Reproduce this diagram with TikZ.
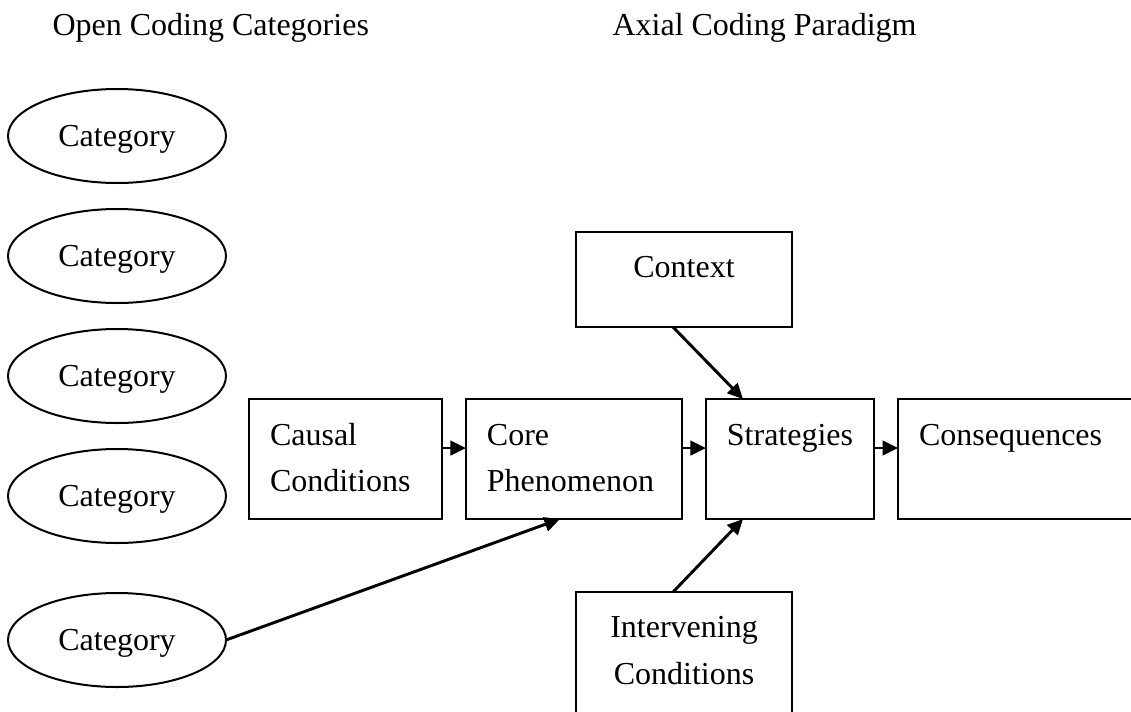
\documentclass[tikz,border=0pt]{standalone}
\usepackage{fontspec}
\setmainfont{Liberation Serif}
\usepackage{tikz}
\usetikzlibrary{shapes, shapes.geometric, arrows, arrows.meta, positioning, calc}

\begin{document}
\begin{tikzpicture}[
            x=0.375pt, y=-0.375pt,
            node distance=9.75pt and 9pt,
            >={Triangle[length=5.8pt,width=5.4pt]},
            font=\fontsize{12pt}{17.6pt}\selectfont,
            category/.style={
				ellipse,
				minimum width=81.75pt,
				minimum height=35.25pt,
				inner sep=0pt,
				outer sep=0pt,
				text height=8.5pt,
				text depth=1pt,
				draw=black,
				line width=0.75pt
			},
            paradigm/.style={
				rectangle,
				align=left,
				inner xsep=7.875pt,
				inner ysep=0pt,
				outer sep=0pt,
				text height=17.25pt,
				text depth=27.75pt,
				draw=black,
				line width=0.75pt
			},
            outer/.style={
				rectangle,
				align=center,
				text width=65.25pt,
				inner xsep=7.875pt,
				inner ysep=0pt,
				outer sep=0pt,
				text height=16.9pt,
				draw=black,
				line width=0.75pt
			},
            title/.style={
				inner sep=0pt,
				anchor=base west
			},
            arrow/.style={
				line width=1.1pt,
				->
			},
            line/.style={
				line width=1.1pt
			}
        ]

        \useasboundingbox (0,0) rectangle (1131,711);
        \clip (0,0) rectangle (1131,711);

        \node (opentitle) [title] at (52,35) {Open Coding Categories};
        \node (axialtitle) [title] at (612,35) {Axial Coding Paradigm};

        \node (cat1) [category] at (117,136) {Category};
        \node (cat2) [category, below=of cat1] {Category};
        \node (cat3) [category, below=of cat2] {Category};
        \node (cat4) [category, below=of cat3] {Category};
        \node (cat5) [category, below=of cat4, yshift=-9pt] {Category};

        \node (causal) [paradigm, text width=56.6pt, anchor=north west] at (249,399) {Causal\\Conditions};
        \node (core) [paradigm, text width=65.25pt, right=of causal] {Core\\Phenomenon};
        \node (strategies) [paradigm, text width=47.3pt, right=of core] {Strategies};
        \node (consequences) [paradigm, text width=76pt, right=of strategies] {Consequences};

        \node (context) [outer, text depth=18.75pt, anchor=north west] at (576,232) {Context};
        \node (intervening) [outer, text depth=29.25pt, anchor=north west] at (576,592) {Intervening\\Conditions};

        \draw [arrow] ([yshift=4.125pt]causal.east) -- ([yshift=4.125pt]core.west);
        \draw [arrow] ([yshift=4.125pt]core.east) -- ([yshift=4.125pt]strategies.west);
        \draw [arrow] ([yshift=4.125pt]strategies.east) -- ([yshift=4.125pt]consequences.west);

        \draw [arrow] ([xshift=-4.1pt]context.south) -- ([xshift=13.9pt]strategies.north west);
        \draw [arrow] ([xshift=-4.1pt]intervening.north) -- ([xshift=13.9pt]strategies.south west);

        \draw [arrow] (cat5.east) -- ([xshift=-5.25pt]core.south);

        \end{tikzpicture}
\end{document}
